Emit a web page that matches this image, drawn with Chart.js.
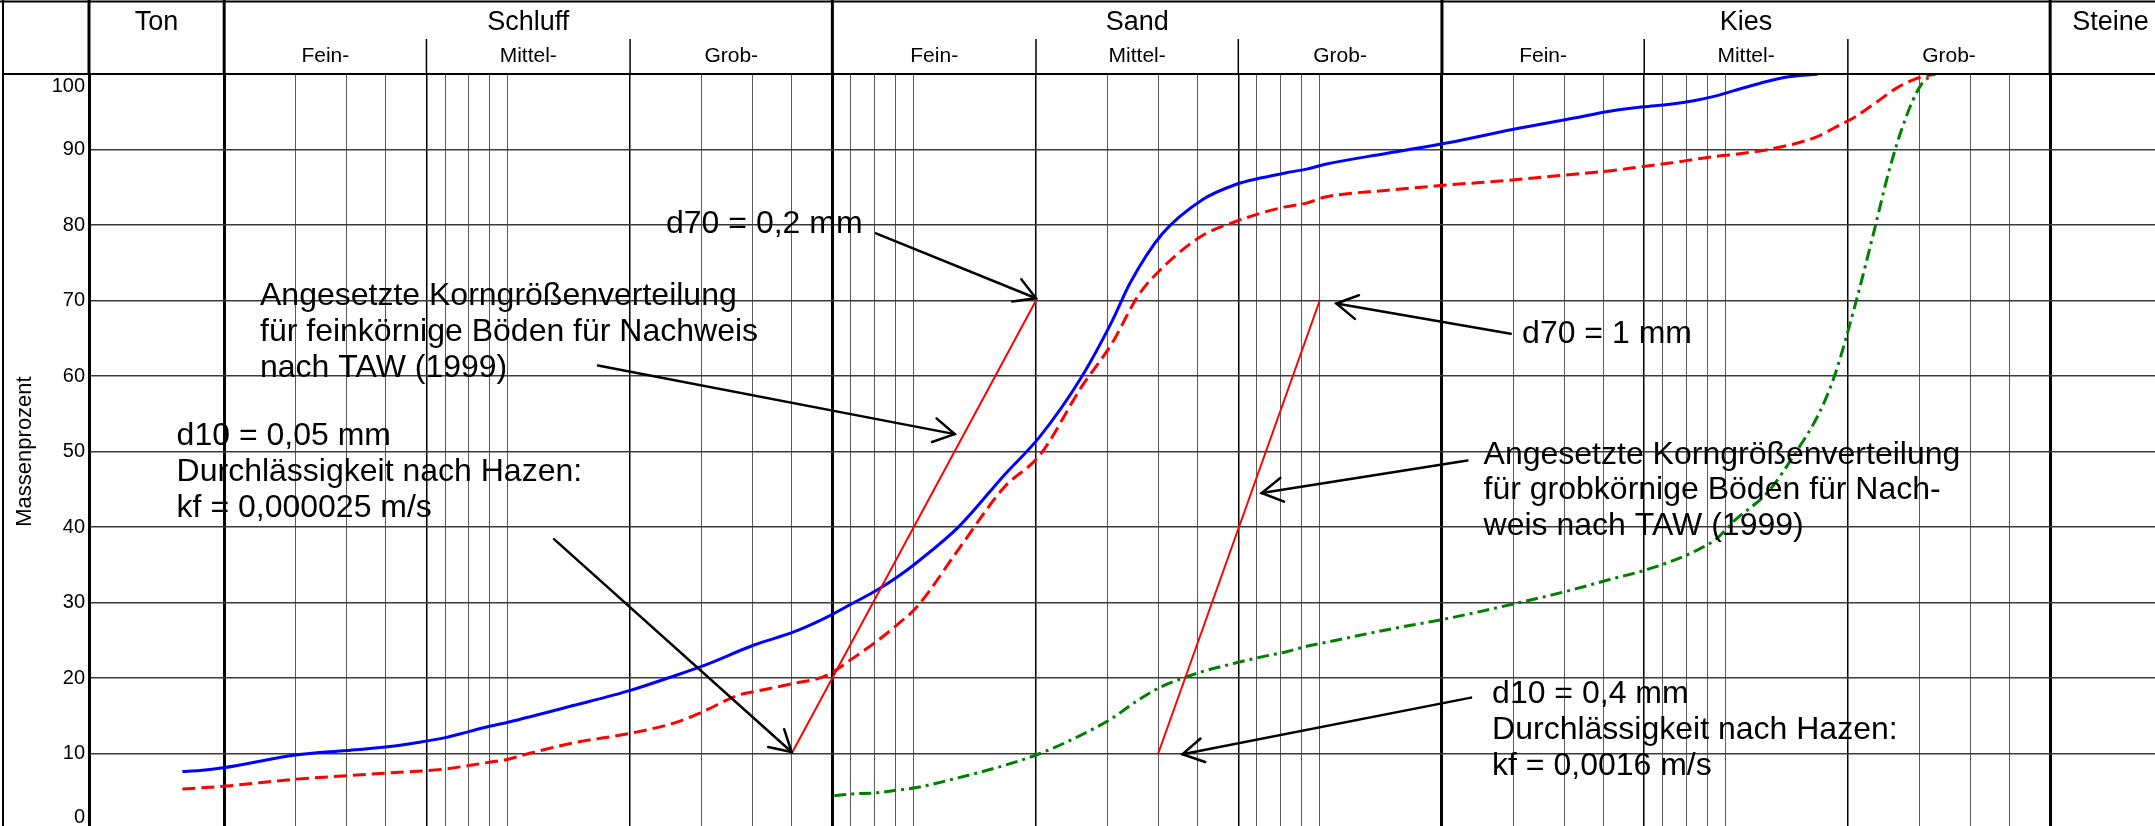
<!DOCTYPE html>
<html lang="de">
<head>
<meta charset="UTF-8">
<title>Körnungslinien</title>
<script src="https://cdn.jsdelivr.net/npm/chart.js@4/dist/chart.umd.min.js"></script>
<style>
  html, body { margin: 0; padding: 0; background: #fff; overflow: hidden; }
  #chart { display: block; }
</style>
</head>
<body>
<canvas id="chart" width="2155" height="830"></canvas>
<script>
// grain size grid (mm)
const gridDiameters = [0.002, 0.003, 0.004, 0.005, 0.0063, 0.007, 0.008, 0.009, 0.01,
  0.02, 0.03, 0.04, 0.05, 0.063, 0.07, 0.08, 0.09, 0.1,
  0.2, 0.3, 0.4, 0.5, 0.63, 0.7, 0.8, 0.9, 1,
  2, 3, 4, 5, 6.3, 7, 8, 9, 10, 20, 30, 40, 50, 63];
const mainLimits = [0.002, 0.063, 2, 63];
const subLimits = [0.002, 0.0063, 0.02, 0.063, 0.2, 0.63, 2, 6.3, 20, 63];
const X_MIN = 0.000929;
const X_MAX = 114.2;

const fractions = ['Ton', 'Schluff', 'Sand', 'Kies', 'Steine'];
const fractionLimits = [X_MIN, 0.002, 0.063, 2, 63, 125];
const subFractions = ['Fein-', 'Mittel-', 'Grob-'];

// Körnungslinie 1 (blau)
const curve1Diam = [0.001578, 0.001744, 0.001987, 0.002996, 0.004, 0.004989, 0.005994, 0.007015, 0.008008, 0.009006, 0.010007,
  0.01448, 0.02013, 0.02545, 0.03023, 0.04056, 0.05061, 0.06076, 0.07072, 0.0812, 0.09123, 0.1017, 0.1291, 0.1665,
  0.2046, 0.2585, 0.3075, 0.3413, 0.4089, 0.514, 0.6162, 0.7193, 0.8229, 0.9279, 1.032, 1.467, 2.071, 3.112, 4.168, 5.22, 6.259,
  7.295, 8.407, 9.471, 10.49, 12.11, 13.93, 16.89];
const curve1Pass = [7.6, 7.75, 8.1, 9.8, 10.4, 10.85, 11.45, 12.1, 12.9, 13.6, 14.15,
  16.35, 18.4, 20.2, 21.6, 24.4, 26.1, 28.0, 29.9, 31.65, 33.4, 35.3, 40.05, 46.8,
  52.0, 59.8, 67.2, 72.35, 78.8, 83.35, 85.3, 86.25, 86.9, 87.4, 88.05, 89.5, 90.9, 92.85, 94.1, 95.1, 95.65,
  96.0, 96.5, 97.1, 97.8, 98.75, 99.55, 100];

// Körnungslinie 2 (rot, gestrichelt)
const curve2Diam = [0.001578, 0.001987, 0.002996, 0.004, 0.004989, 0.005994, 0.007015, 0.008008, 0.009006, 0.010007,
  0.01145, 0.01448, 0.02013, 0.02607, 0.03023, 0.03711, 0.04056, 0.05061, 0.06076, 0.07072, 0.0812, 0.09123, 0.1017,
  0.1291, 0.1665, 0.2046, 0.2585, 0.3075, 0.3576, 0.4089, 0.514, 0.6162, 0.7193, 0.8229, 0.9279, 1.032, 1.467, 2.071,
  3.112, 4.168, 5.22, 6.259, 7.295, 8.407, 9.471, 10.49, 12.74, 16.51, 19.28, 20.96, 23.71, 26.3, 29.16, 32.77];
const curve2Pass = [5.3, 5.65, 6.6, 7.05, 7.4, 7.65, 7.95, 8.4, 8.85, 9.25,
  10.1, 11.4, 12.7, 14.15, 15.55, 17.75, 18.2, 19.3, 20.3, 22.6, 24.9, 27.1, 29.4,
  37.1, 45.2, 49.55, 58.5, 64.3, 70.7, 74.3, 78.6, 80.4, 81.6, 82.4, 82.9, 83.7, 84.6, 85.3,
  86.05, 86.7, 87.2, 87.75, 88.2, 88.7, 89.1, 89.35, 90.0, 91.55, 93.35, 94.4, 96.4, 98.1, 99.3, 100];

// Körnungslinie 3 (grün, strichpunktiert)
const curve3Diam = [0.06371, 0.07072, 0.0812, 0.09123, 0.1017, 0.1291, 0.1665, 0.2046, 0.2585, 0.3075, 0.3576,
  0.4089, 0.472, 0.514, 0.6162, 0.7193, 0.8229, 0.9279, 1.032, 1.467, 2.071, 3.112, 4.168, 5.22, 6.259, 7.295, 8.407, 9.471, 10.49,
  12.74, 14.89, 16.89, 18.54, 20.96, 23.11, 25.3, 27.69, 30.32, 32.77];
const curve3Pass = [4.4, 4.65, 4.8, 5.15, 5.5, 6.8, 8.4, 10.0, 12.45, 14.65, 17.1,
  18.9, 20.2, 20.85, 21.95, 22.8, 23.45, 24.2, 24.7, 26.4, 27.9, 30.0, 31.65, 33.1, 34.2, 35.4, 36.8, 38.4, 40.8,
  44.7, 49.9, 54.8, 60.0, 69.9, 78.8, 87.3, 94.0, 98.6, 100];

// angesetzte Korngrößenverteilungen (d10 -> d70)
const fineDiam = [0.05, 0.2];
const finePass = [10, 70];
const coarseDiam = [0.4, 1];
const coarsePass = [10, 70];

// Beschriftungen [d, %] und Pfeile
const noteText = [
  ['d70 = 0,2 mm'],
  ['Angesetzte Korngrößenverteilung', 'für feinkörnige Böden für Nachweis', 'nach TAW (1999)'],
  ['d10 = 0,05 mm', 'Durchlässigkeit nach Hazen:', 'kf = 0,000025 m/s'],
  ['d70 = 1 mm'],
  ['Angesetzte Korngrößenverteilung', 'für grobkörnige Böden für Nach-', 'weis nach TAW (1999)'],
  ['d10 = 0,4 mm', 'Durchlässigkeit nach Hazen:', 'kf = 0,0016 m/s']
];
const noteAt = [[0.02452, 79.0], [0.002451, 69.35], [0.001527, 50.83], [3.151, 64.33], [2.533, 48.39], [2.658, 16.67]];
const arrowFrom = [[0.0807, 78.9], [0.01667, 61.4], [0.01299, 38.4], [2.955, 65.6], [2.311, 48.8], [2.359, 17.4]];
const arrowTo = [[0.2, 70.3], [0.1261, 52.3], [0.05, 10.2], [1.099, 69.6], [0.7193, 44.5], [0.4589, 9.9]];

const FONT = "'Liberation Sans', Arial, sans-serif";
Chart.defaults.font.family = FONT;
Chart.defaults.color = '#000';

const toPoints = (ds, ps) => ds.map((d, i) => ({ x: d, y: ps[i] }));

function curve(data, color, width, dash) {
  return {
    data: data,
    borderColor: color,
    borderWidth: width,
    borderDash: dash,
    pointRadius: 0,
    fill: false,
    cubicInterpolationMode: 'monotone'
  };
}

function stroke(ctx, x0, y0, x1, y1, w) {
  ctx.lineWidth = w;
  ctx.beginPath();
  ctx.moveTo(x0, y0);
  ctx.lineTo(x1, y1);
  ctx.stroke();
}

// header with soil fractions + frame
const headerPlugin = {
  id: 'header',
  afterDraw(chart) {
    const { ctx, chartArea: a, scales: { x } } = chart;
    ctx.save();
    ctx.strokeStyle = '#000';
    stroke(ctx, 0, 1.5, chart.width, 1.5, 2);
    stroke(ctx, 3, 0, 3, chart.height, 2);
    stroke(ctx, 3, a.top, a.right, a.top, 2);
    stroke(ctx, a.left, 0, a.left, a.top, 3);
    subLimits.forEach(v => {
      const px = x.getPixelForValue(v);
      if (mainLimits.includes(v)) stroke(ctx, px, 0, px, a.top, 3);
      else stroke(ctx, px, 39, px, a.top, 1.5);
    });

    ctx.fillStyle = '#000';
    ctx.textAlign = 'center';
    ctx.textBaseline = 'alphabetic';
    ctx.font = '27px ' + FONT;
    fractions.forEach((name, i) => {
      const l = x.getPixelForValue(fractionLimits[i]);
      const r = x.getPixelForValue(fractionLimits[i + 1]);
      ctx.fillText(name, (l + r) / 2, 30);
    });
    ctx.font = '21px ' + FONT;
    for (let i = 0; i < subLimits.length - 1; i++) {
      const l = x.getPixelForValue(subLimits[i]);
      const r = x.getPixelForValue(subLimits[i + 1]);
      ctx.fillText(subFractions[i % 3], (l + r) / 2, 62);
    }
    ctx.restore();
  }
};

// text notes and arrows
const notesPlugin = {
  id: 'notes',
  afterDatasetsDraw(chart) {
    const { ctx, scales: { x, y } } = chart;
    ctx.save();
    ctx.strokeStyle = '#000';
    ctx.lineCap = 'round';
    arrowFrom.forEach((from, i) => {
      const x0 = x.getPixelForValue(from[0]), y0 = y.getPixelForValue(from[1]);
      const x1 = x.getPixelForValue(arrowTo[i][0]), y1 = y.getPixelForValue(arrowTo[i][1]);
      stroke(ctx, x0, y0, x1, y1, 2.5);
      const ang = Math.atan2(y1 - y0, x1 - x0);
      const len = 24, spread = Math.PI / 6;
      ctx.beginPath();
      ctx.moveTo(x1 - len * Math.cos(ang - spread), y1 - len * Math.sin(ang - spread));
      ctx.lineTo(x1, y1);
      ctx.lineTo(x1 - len * Math.cos(ang + spread), y1 - len * Math.sin(ang + spread));
      ctx.stroke();
    });

    ctx.fillStyle = '#000';
    ctx.textAlign = 'left';
    ctx.textBaseline = 'alphabetic';
    ctx.font = '32px ' + FONT;
    noteText.forEach((lines, i) => {
      const px = x.getPixelForValue(noteAt[i][0]);
      const py = y.getPixelForValue(noteAt[i][1]);
      lines.forEach((t, k) => ctx.fillText(t, px, py + k * 35.7));
    });
    ctx.restore();
  }
};

const isMain = v => mainLimits.includes(v);
const isSub = v => subLimits.includes(v) && !isMain(v);

new Chart(document.getElementById('chart'), {
  type: 'line',
  data: {
    datasets: [
      curve(toPoints(fineDiam, finePass), '#ff0000', 2, []),
      curve(toPoints(coarseDiam, coarsePass), '#ff0000', 2, []),
      curve(toPoints(curve3Diam, curve3Pass), '#008000', 3, [12, 5, 3, 5]),
      curve(toPoints(curve2Diam, curve2Pass), '#ff0000', 3, [13, 6]),
      curve(toPoints(curve1Diam, curve1Pass), '#0000ff', 3, [])
    ]
  },
  options: {
    responsive: false,
    animation: false,
    devicePixelRatio: 1,
    layout: { padding: { top: 74, bottom: 1, left: 0, right: 0 } },
    plugins: { legend: { display: false }, tooltip: { enabled: false } },
    scales: {
      x: {
        type: 'logarithmic',
        min: X_MIN,
        max: X_MAX,
        afterBuildTicks: s => { s.ticks = gridDiameters.map(v => ({ value: v })); },
        afterFit: s => { s.height = 0; s.paddingLeft = 0; s.paddingRight = 0; },
        ticks: { display: false },
        border: { display: false },
        grid: {
          drawTicks: false,
          color: c => (isMain(c.tick.value) || isSub(c.tick.value)) ? '#000' : '#5a5a5a',
          lineWidth: c => isMain(c.tick.value) ? 3 : isSub(c.tick.value) ? 1.5 : 1
        }
      },
      y: {
        min: 0,
        max: 100,
        afterFit: s => { s.width = 89; s.paddingTop = 0; s.paddingBottom = 0; },
        ticks: {
          stepSize: 10,
          padding: 4,
          font: { size: 20 },
          callback: v => v === 0 ? ['0', ''] : v === 100 ? ['', '100'] : String(v)
        },
        border: { display: true, color: '#000', width: 3 },
        grid: { drawTicks: false, color: '#3a3a3a', lineWidth: 1.5 },
        title: { display: true, text: 'Massenprozent', font: { size: 22 }, padding: { top: 12, bottom: 0 } }
      }
    }
  },
  plugins: [headerPlugin, notesPlugin]
});
</script>
</body>
</html>
